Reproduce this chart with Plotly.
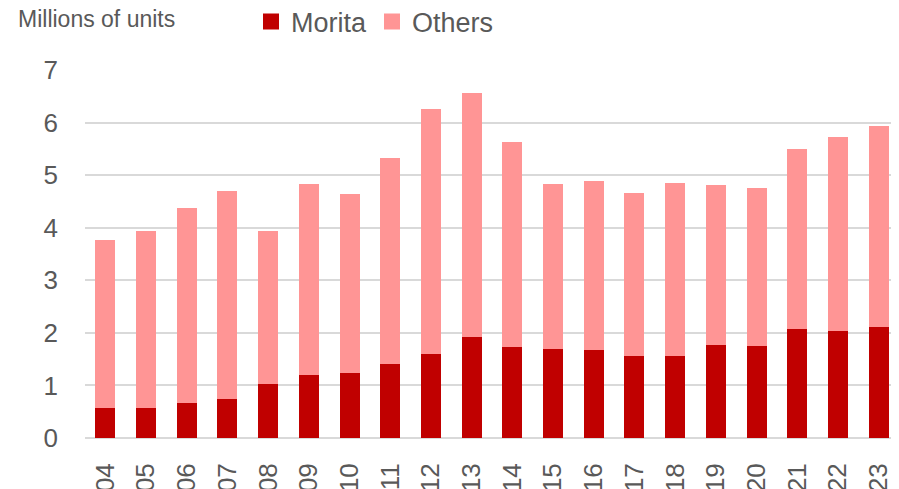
import plotly.graph_objects as go

years = ["'04", "'05", "'06", "'07", "'08", "'09", "'10", "'11", "'12", "'13",
         "'14", "'15", "'16", "'17", "'18", "'19", "'20", "'21", "'22", "'23"]
morita = [0.57, 0.58, 0.67, 0.74, 1.02, 1.19, 1.24, 1.41, 1.60, 1.92,
          1.73, 1.69, 1.68, 1.56, 1.56, 1.76, 1.75, 2.08, 2.03, 2.12]
totals = [3.77, 3.93, 4.37, 4.69, 3.94, 4.83, 4.65, 5.33, 6.26, 6.56,
          5.64, 4.83, 4.89, 4.66, 4.86, 4.82, 4.76, 5.50, 5.72, 5.93]
others = [round(t - m, 2) for t, m in zip(totals, morita)]
y_ticks = [0, 1, 2, 3, 4, 5, 6, 7]

FONT = "Liberation Sans, Arial, sans-serif"
GREY = "#595959"
C_MORITA = "#C00000"
C_OTHERS = "#FF9595"

# page body has an 8px margin: figure is offset by (8, 8)
W, H = 891, 481
ML, MT, MB, MR = 77, 62, 51, 0
PH = H - MT - MB
PW = W - ML - MR

fig = go.Figure()
fig.add_trace(go.Bar(x=years, y=morita, name="Morita", showlegend=False,
                     marker=dict(color=C_MORITA, line=dict(width=0))))
fig.add_trace(go.Bar(x=years, y=others, name="Others", showlegend=False,
                     marker=dict(color=C_OTHERS, line=dict(width=0))))
# legend entries with larger square swatches
for name, col in (("Morita", C_MORITA), ("Others", C_OTHERS)):
    fig.add_trace(go.Scatter(x=[None], y=[None], mode="markers", name=name,
                             marker=dict(symbol="square", size=16, color=col),
                             hoverinfo="skip"))

fig.update_layout(
    width=W, height=H,
    barmode="stack", bargap=0.51,
    plot_bgcolor="white", paper_bgcolor="white",
    margin=dict(l=ML, r=MR, t=MT, b=MB, autoexpand=False),
    font=dict(family=FONT, color=GREY, size=26),
    legend=dict(orientation="h", x=(243 - ML) / PW, y=(H - MB - 14) / PH,
                xanchor="left", yanchor="middle", itemsizing="trace",
                font=dict(size=27, color=GREY), entrywidth=76, entrywidthmode="pixels",
                traceorder="normal", bgcolor="rgba(0,0,0,0)"),
    showlegend=True,
    annotations=[dict(text="Millions of units", xref="paper", yref="paper",
                      x=(8 - ML) / PW, y=(H - MB - 11) / PH, xanchor="left", yanchor="middle",
                      showarrow=False, font=dict(size=23, color=GREY))],
)
fig.update_yaxes(range=[0, 7], tickvals=y_ticks, showgrid=True, gridcolor="#D9D9D9",
                 gridwidth=1.5, zeroline=True, zerolinecolor="#D9D9D9", zerolinewidth=1.5,
                 showline=False, ticks="", ticklabelstandoff=26, automargin=False,
                 tickfont=dict(size=26, color=GREY))
fig.update_xaxes(tickangle=-90, showgrid=False, showline=False, ticks="",
                 ticklabelstandoff=19, automargin=False,
                 tickfont=dict(size=26, color=GREY))

fig.write_html("out.html")
